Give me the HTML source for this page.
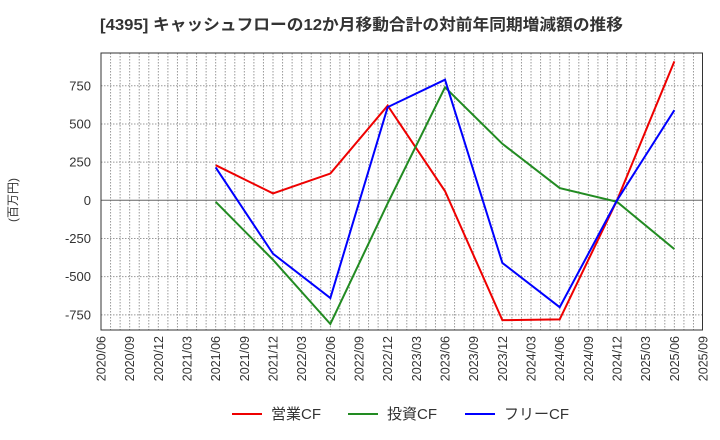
<!DOCTYPE html><html><head><meta charset="utf-8"><style>body{margin:0;background:#fff}svg{display:block;font-family:"Liberation Sans","Noto Sans CJK JP",sans-serif}</style></head><body>
<svg width="720" height="440" viewBox="0 0 720 440">
<text x="100" y="30" font-size="16" font-weight="bold" fill="#333" textLength="523" lengthAdjust="spacingAndGlyphs">[4395]  キャッシュフローの12か月移動合計の対前年同期増減額の推移</text>
<g id="g"></g>
<rect x="101" y="53" width="601.5" height="277" fill="none" stroke="#333" stroke-width="1"/>
<text transform="translate(17,200) rotate(-90)" font-size="12" fill="#333" text-anchor="middle">(百万円)</text>
<g id="lab"></g>
<line x1="232" y1="414" x2="262" y2="414" stroke="#e00" stroke-width="2"/><text x="271" y="419" font-size="15" fill="#333">営業CF</text>
<line x1="348" y1="414" x2="378" y2="414" stroke="#228b22" stroke-width="2"/><text x="387" y="419" font-size="15" fill="#333">投資CF</text>
<line x1="465" y1="414" x2="495" y2="414" stroke="#00f" stroke-width="2"/><text x="504" y="419" font-size="15" fill="#333">フリーCF</text>
</svg>
<script>
const ns="http://www.w3.org/2000/svg",svg=document.querySelector('svg');
function el(t,a,p){const e=document.createElementNS(ns,t);for(const k in a)e.setAttribute(k,a[k]);(p||svg).appendChild(e);return e;}
const g=document.getElementById('g'),lab=document.getElementById('lab');
const X=m=>101+m*9.556,Y=v=>200.3-v*0.1527;
for(let m=1;m<63;m++)el('line',{x1:X(m),x2:X(m),y1:53,y2:330,stroke:'#999','stroke-dasharray':'1.5,1.5','stroke-width':1},g);
for(const v of [750,500,250,-250,-500,-750]){el('line',{x1:101,x2:702,y1:Y(v),y2:Y(v),stroke:'#999','stroke-dasharray':'1.5,1.5'},g);}
el('line',{x1:101,x2:702,y1:Y(0),y2:Y(0),stroke:'#666'},g);
for(const v of [750,500,250,0,-250,-500,-750]){const t=el('text',{x:91,y:Y(v)+4.5,'font-size':13,fill:'#333','text-anchor':'end'},lab);t.textContent=v;}
const ms=['06','09','12','03'];
for(let i=0;i<22;i++){const m=i*3,yr=2020+Math.floor((m+5)/12),mo=ms[i%4];const t=el('text',{transform:`translate(${X(m)+4.5},336) rotate(-90)`,'font-size':12.5,fill:'#333','text-anchor':'end'},lab);t.textContent=yr+'/'+mo;}
const S=[['#e00',[230,45,175,620,60,-785,-780,0,910]],['#228b22',[-10,-390,-810,-20,740,370,80,-10,-320]],['#00f',[215,-350,-640,610,790,-410,-700,0,590]]];
for(const [c,d] of S)el('polyline',{points:d.map((v,i)=>X(12+i*6)+','+Y(v)).join(' '),fill:'none',stroke:c,'stroke-width':2});
</script></body></html>
